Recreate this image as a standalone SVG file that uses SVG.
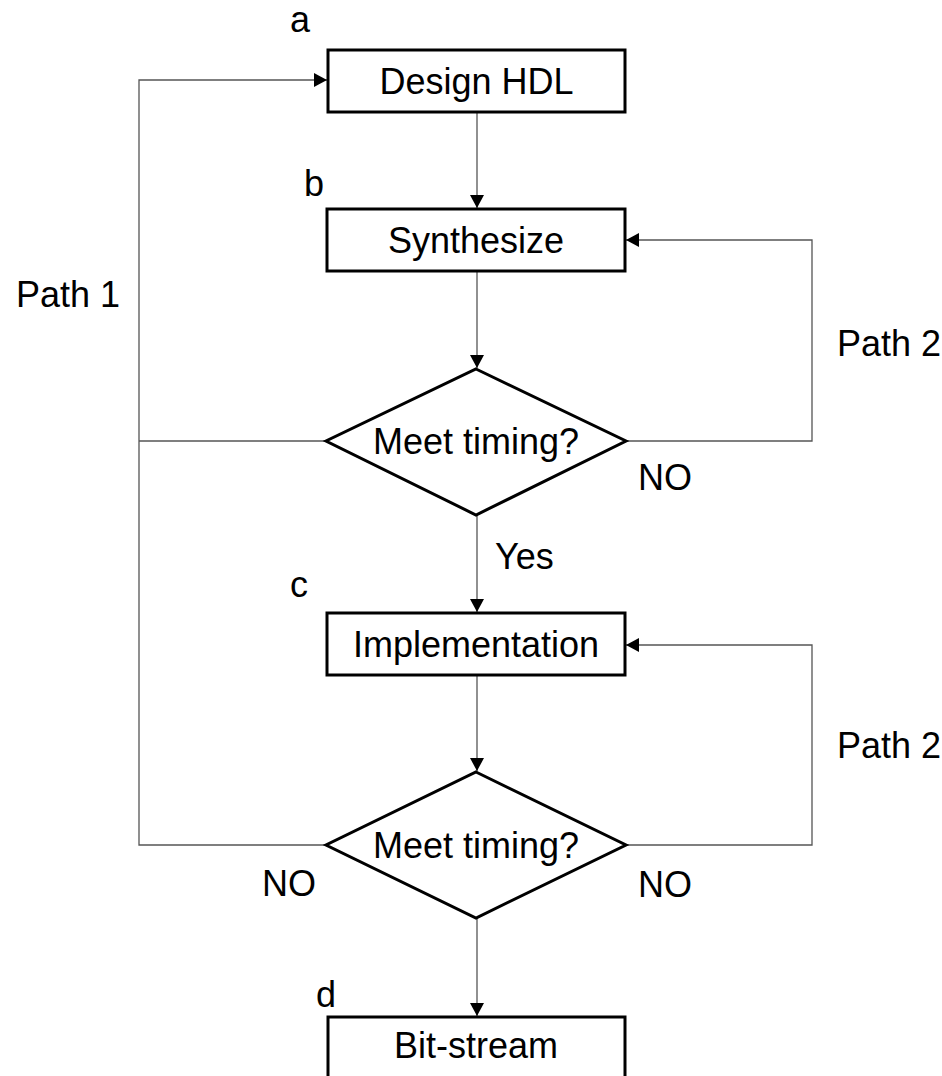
<svg xmlns="http://www.w3.org/2000/svg" width="942" height="1076" viewBox="0 0 942 1076">
<style>
text{font-family:"Liberation Sans",Arial,sans-serif;font-size:36px;fill:#000}
.c{text-anchor:middle}
.node{fill:#fff;stroke:#000;stroke-width:3}
.conn{fill:none;stroke:#555;stroke-width:1.3}
</style>
<defs>
<marker id="ah" markerWidth="14" markerHeight="14" refX="13" refY="7" orient="auto" markerUnits="userSpaceOnUse">
<path d="M0,0 L13,7 L0,14 Z" fill="#000"/>
</marker>
</defs>
<rect width="942" height="1076" fill="#fff"/>
<g id="connectors">
<path class="conn" d="M477,112 V208" marker-end="url(#ah)"/>
<path class="conn" d="M477,271 V368" marker-end="url(#ah)"/>
<path class="conn" d="M477,515 V612" marker-end="url(#ah)"/>
<path class="conn" d="M477,675 V771" marker-end="url(#ah)"/>
<path class="conn" d="M477,918 V1016" marker-end="url(#ah)"/>
<path class="conn" d="M326,845 H139 V80 H327" marker-end="url(#ah)"/>
<path class="conn" d="M326,441 H139"/>
<path class="conn" d="M626,441 H812 V240 H626" marker-end="url(#ah)"/>
<path class="conn" d="M626,845 H812 V645 H626" marker-end="url(#ah)"/>
</g>
<g id="node-a">
<rect class="node" x="328" y="50" width="297" height="62"/>
<text class="c" x="476.5" y="94">Design HDL</text>
</g>
<g id="node-b">
<rect class="node" x="327" y="209" width="298" height="62"/>
<text class="c" x="476" y="253">Synthesize</text>
</g>
<g id="node-d1">
<polygon class="node" points="476,369 626,441 476,515 326,441"/>
<text class="c" x="476" y="454">Meet timing?</text>
</g>
<g id="node-c">
<rect class="node" x="327" y="613" width="298" height="62"/>
<text class="c" x="476" y="657">Implementation</text>
</g>
<g id="node-d2">
<polygon class="node" points="476,772 626,845 476,918 326,845"/>
<text class="c" x="476" y="858">Meet timing?</text>
</g>
<g id="node-d">
<rect class="node" x="328" y="1017" width="297" height="70"/>
<text class="c" x="476" y="1058">Bit-stream</text>
</g>
<g id="labels">
<text class="c" x="300" y="32">a</text>
<text class="c" x="314" y="196">b</text>
<text class="c" x="299" y="597">c</text>
<text class="c" x="326" y="1007">d</text>
<text x="16" y="307">Path 1</text>
<text x="837" y="356">Path 2</text>
<text x="837" y="758">Path 2</text>
<text x="495" y="569">Yes</text>
<text x="638" y="490">NO</text>
<text x="262" y="896">NO</text>
<text x="638" y="897">NO</text>
</g>
</svg>
